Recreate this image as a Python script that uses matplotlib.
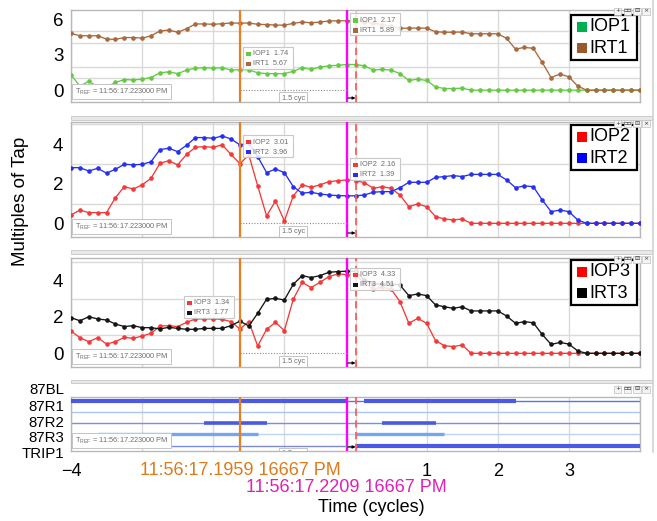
import numpy as np
import matplotlib
matplotlib.use("Agg")
import matplotlib.pyplot as plt
from matplotlib.patches import Rectangle
from matplotlib.transforms import IdentityTransform

plt.rcParams['font.family'] = ['Liberation Sans', 'DejaVu Sans']

# ---------------- data ----------------
t_start = -4.0
samples_per_cycle = 8
n_samples = 65
t = t_start + np.arange(n_samples) / samples_per_cycle

IOP1 = [1.30, 0.35, 0.75, 0.30, 0.28, 0.65, 0.90, 0.86, 0.93, 1.07,
        1.47, 1.55, 1.40, 1.70, 1.86, 1.90, 1.86, 1.90, 1.70, 1.74,
        1.72, 1.47, 1.40, 1.40, 1.40, 1.60, 1.90, 1.76, 1.95, 2.06,
        2.10, 2.17, 2.17, 2.06, 1.70, 1.76, 1.70, 1.40, 0.82, 0.93,
        0.82, 0.28, 0.14, 0.14, 0.17, 0, 0, 0, 0, 0,
        0, 0, 0, 0, 0, 0, 0, 0, 0, 0, 0, 0, 0, 0, 0]
IRT1 = [4.80, 4.60, 4.60, 4.60, 4.32, 4.30, 4.45, 4.45, 4.40, 4.60,
        5.00, 5.08, 4.90, 5.20, 5.60, 5.60, 5.57, 5.62, 5.68, 5.67,
        5.68, 5.57, 5.55, 5.50, 5.50, 5.65, 5.76, 5.70, 5.76, 5.85,
        5.87, 5.87, 5.89, 5.80, 5.65, 5.55, 5.42, 5.23, 5.25, 5.25,
        5.25, 4.94, 4.90, 4.90, 4.92, 4.77, 4.77, 4.77, 4.77, 4.38,
        3.47, 3.62, 3.54, 2.35, 1.07, 1.36, 1.13, 0.34, 0, 0,
        0, 0, 0, 0, 0]
IOP2 = [0.42, 0.67, 0.54, 0.54, 0.54, 1.30, 1.85, 1.73, 1.94, 2.27,
        3.03, 3.16, 2.95, 3.48, 3.84, 3.87, 3.84, 3.96, 3.48, 3.01,
        3.45, 1.89, 0.37, 1.13, 0.12, 1.38, 1.94, 1.82, 1.94, 2.10,
        2.15, 2.19, 2.16, 2.05, 1.77, 1.85, 1.77, 1.43, 0.84, 0.98,
        0.84, 0.34, 0.22, 0.17, 0.22, 0, 0, 0, 0, 0,
        0, 0, 0, 0, 0, 0, 0, 0, 0, 0, 0, 0, 0, 0, 0]
IRT2 = [2.81, 2.81, 2.64, 2.78, 2.53, 2.73, 2.98, 2.95, 2.98, 3.11,
        3.72, 3.79, 3.62, 3.94, 4.33, 4.33, 4.29, 4.41, 4.26, 3.96,
        4.04, 3.37, 2.56, 2.74, 2.56, 1.85, 1.52, 1.57, 1.48, 1.43,
        1.40, 1.39, 1.39, 1.43, 1.57, 1.60, 1.60, 1.80, 2.07, 2.07,
        2.07, 2.32, 2.36, 2.41, 2.36, 2.47, 2.47, 2.47, 2.47, 2.19,
        1.80, 1.89, 1.85, 1.18, 0.59, 0.67, 0.59, 0.17, 0, 0,
        0, 0, 0, 0, 0]
IOP3 = [1.23, 0.86, 0.64, 0.86, 0.51, 0.64, 0.88, 0.82, 0.95, 1.10,
        1.50, 1.52, 1.47, 1.70, 1.89, 1.89, 1.89, 1.87, 1.74, 1.34,
        1.74, 0.40, 1.32, 1.70, 1.25, 2.97, 3.90, 3.61, 3.90, 4.21,
        4.36, 4.33, 4.33, 3.85, 3.53, 3.63, 3.53, 2.84, 1.65, 1.92,
        1.65, 0.70, 0.42, 0.37, 0.46, 0, 0, 0, 0, 0,
        0, 0, 0, 0, 0, 0, 0, 0, 0, 0, 0, 0, 0, 0, 0]
IRT3 = [1.96, 1.79, 2.01, 1.89, 1.83, 1.61, 1.47, 1.52, 1.41, 1.41,
        1.34, 1.43, 1.37, 1.32, 1.32, 1.37, 1.37, 1.37, 1.52, 1.77,
        1.50, 2.20, 2.97, 3.02, 2.93, 3.79, 4.27, 4.16, 4.27, 4.45,
        4.49, 4.51, 4.51, 4.03, 3.81, 3.81, 3.81, 3.75, 3.17, 3.26,
        3.17, 2.66, 2.56, 2.47, 2.56, 2.33, 2.33, 2.33, 2.33, 2.05,
        1.65, 1.74, 1.68, 1.04, 0.49, 0.60, 0.51, 0.13, 0, 0,
        0, 0, 0, 0, 0]

t_cursor_a = -1.625
t_cursor_b = -0.125
t_ref = 0.0
time_label_a = "11:56:17.1959 16667 PM"
time_label_b = "11:56:17.2209 16667 PM"
tref_label = r"T$_{\mathregular{REF}}$ = 11:56:17.223000 PM"
delta_label = "1.5 cyc"

digital_channels = ["87BL", "87R1", "87R2", "87R3", "TRIP1"]
digital_on = {
    "87BL": [(-4.0, -0.125), (0.125, 2.25)],
    "87R1": [],
    "87R2": [(-2.125, -1.25), (0.375, 1.125)],
    "87R3": [(-3.625, -1.375), (0.0, 1.25)],
    "TRIP1": [(0.0, 4.0)],
}

x_ticks = [-4, -3, -2, -1, 0, 1, 2, 3, 4]
x_tick_labels = ["\u22124", "", "", "", "", "1", "2", "3", ""]

# ---------------- styles ----------------
C_GREEN_L, C_BROWN_L = "#62cb42", "#a8693e"
C_RED_L, C_BLUE_L, C_BLACK_L = "#f23a3a", "#2630f0", "#151515"
C_ORANGE, C_MAGENTA, C_REFRED = "#ee7d1f", "#ff00ff", "#ff5c5c"
GRID = "#dadada"
SPINE = "#b8b8b8"
GRAYTXT = "#6e6e6e"

W, H = 657, 521
fig = plt.figure(figsize=(W / 100, H / 100), dpi=100)
ID = IdentityTransform()


def rect(top, bottom, left=71, right=640):
    return [left / W, 1 - bottom / H, (right - left) / W, (bottom - top) / H]


ax1 = fig.add_axes(rect(10, 102))
ax2 = fig.add_axes(rect(122.3, 237))
ax3 = fig.add_axes(rect(258.3, 367))
ax4 = fig.add_axes(rect(396.7, 451))
axes = [ax1, ax2, ax3, ax4]

ylims = [(-1.0, 6.78), (-0.69, 5.1), (-0.75, 5.22), (-0.47, 4.35)]
yticks = [[0, 3, 6], [0, 2, 4], [0, 2, 4], []]
ygrid = [range(0, 7), range(0, 6), range(0, 6), []]

for ax, yl, yt, yg in zip(axes, ylims, yticks, ygrid):
    ax.set_xlim(-4, 4)
    ax.set_ylim(*yl)
    ax.set_xticks(x_ticks)
    ax.set_yticks(yt)
    ax.set_yticks(list(yg), minor=True)
    ax.tick_params(axis='both', which='both', length=0)
    ax.tick_params(axis='y', labelsize=13.5, pad=5.5)
    ax.tick_params(axis='x', labelsize=13, pad=9)
    ax.grid(True, axis='x', color=GRID, lw=1.0)
    ax.grid(True, axis='y', which='minor', color=GRID, lw=1.0)
    ax.set_axisbelow(True)
    for s in ax.spines.values():
        s.set_color(SPINE)
        s.set_linewidth(1.0)
    if ax is not ax4:
        ax.set_xticklabels([])
    else:
        ax.set_xticklabels(x_tick_labels)

series = [
    (ax1, [("IOP1", IOP1, C_GREEN_L, "#00b050"), ("IRT1", IRT1, C_BROWN_L, "#9c5a2c")]),
    (ax2, [("IOP2", IOP2, C_RED_L, "#ff0000"), ("IRT2", IRT2, C_BLUE_L, "#0000ff")]),
    (ax3, [("IOP3", IOP3, C_RED_L, "#ff0000"), ("IRT3", IRT3, C_BLACK_L, "#000000")]),
]

for ax, ss in series:
    for name, vals, col, _ in ss:
        ax.plot(t, vals, '-', color=col, lw=0.95, marker='o', ms=2.3, mec=col, mfc=col, zorder=3)

# digital channels
levels = {ch: len(digital_channels) - 1 - i for i, ch in enumerate(digital_channels)}
thin_col = {"87BL": "#5f72ea", "87R1": "#a9c6f5", "87R2": "#7a8cee", "87R3": "#bcd5f6", "TRIP1": "#7a8cee"}
thick_col = {"87BL": "#4a5ae6", "87R1": "#4a5ae6", "87R2": "#4a5ae6", "87R3": "#72a8ef", "TRIP1": "#4a5ae6"}
thick_w = {"87BL": 3.0, "87R1": 3.0, "87R2": 2.6, "87R3": 2.4, "TRIP1": 3.0}
for ch in digital_channels:
    y = levels[ch]
    ax4.hlines(y, -4, 4, color=thin_col[ch], lw=1.0, zorder=2)
    for s, e in digital_on[ch]:
        ax4.hlines(y, s, e, color=thick_col[ch], lw=thick_w[ch], zorder=3)

# cursor lines, delta bracket, arrows
for ax in axes:
    ax.axvline(t_cursor_a, color=C_ORANGE, lw=1.6, zorder=4)
    ax.axvline(t_cursor_b, color=C_MAGENTA, lw=1.7, zorder=4)
    ax.axvline(t_ref, color=C_REFRED, lw=1.3, ls=(0, (4, 2.5)), zorder=4)
    ax.hlines(0, t_cursor_a, t_cursor_b, color="#8a8a8a", lw=0.8, ls=(0, (1, 1.5)), zorder=4)
    mid = (t_cursor_a + t_cursor_b) / 2
    ax.annotate(delta_label, xy=(mid, 0), xycoords='data', xytext=(0, -4.5),
                textcoords='offset pixels', ha='center', va='top', fontsize=5.3,
                color=GRAYTXT, annotation_clip=False, clip_on=True, zorder=5,
                bbox=dict(boxstyle='square,pad=0.3', fc='white', ec='#c4c4c4', lw=0.7))
    yfrac = 4.0 / ax.bbox.height
    ax.annotate('', xy=(t_ref, yfrac), xycoords=('data', 'axes fraction'),
                xytext=(t_cursor_b + 0.02, yfrac), textcoords=('data', 'axes fraction'),
                arrowprops=dict(arrowstyle='-|>', color='black', lw=0.8,
                                mutation_scale=4, shrinkA=0, shrinkB=0), zorder=6)
    ax.annotate(tref_label, xy=(0, 0), xycoords='axes fraction', xytext=(4, 5.5),
                textcoords='offset pixels', ha='left', va='bottom', fontsize=5.3,
                color=GRAYTXT, zorder=6,
                bbox=dict(boxstyle='square,pad=0.35', fc='white', ec='#c4c4c4', lw=0.7))


# readout boxes
def readout(ax, x_line, dx, top_off, rows, w=50, h=22):
    X = ax.transData.transform((x_line, 0))[0]
    left = X + dx if dx >= 0 else X + dx - w
    top = ax.bbox.y1 - top_off
    fig.add_artist(Rectangle((left, top - h), w, h, transform=ID, fc=(1, 1, 1, 0.85),
                             ec='#c8c8c8', lw=0.8, zorder=10))
    for i, (col, name, val) in enumerate(rows):
        yy = top - 7 - i * 10
        fig.add_artist(Rectangle((left + 3.5, yy - 2.2), 4.4, 4.4, transform=ID,
                                 fc=col, ec='none', zorder=11))
        fig.text(left + 10.5, yy, f"{name}  {val:.2f}", transform=ID, fontsize=5.3,
                 color=GRAYTXT, ha='left', va='center', zorder=11)


readout_cfg = [
    (ax1, (3, 36.7), (3, 3.3)),
    (ax2, (3, 12.7), (3, 35.7)),
    (ax3, (-6, 37.5), (3, 9.7)),
]
for (ax, ss), (_, ra, rb) in zip(series, readout_cfg):
    rows_a = [(col, name, float(np.interp(t_cursor_a, t, vals))) for name, vals, col, _ in ss]
    rows_b = [(col, name, float(np.interp(t_ref, t, vals))) for name, vals, col, _ in ss]
    readout(ax, t_cursor_a, ra[0], ra[1], rows_a)
    readout(ax, t_cursor_b, rb[0], rb[1], rows_b)


# legends
def legend(ax, ss, top_off):
    right = ax.bbox.x1 - 3
    top = ax.bbox.y1 - top_off
    w, h = 66, 45
    fig.add_artist(Rectangle((right - w, top - h), w, h, transform=ID, fc='white',
                             ec='black', lw=1.6, zorder=12))
    for i, (name, _, _, lc) in enumerate(ss):
        yy = top - 11.7 - i * 21.6
        fig.add_artist(Rectangle((right - w + 6, yy - 5), 10, 10, transform=ID,
                                 fc=lc, ec='none', zorder=13))
        fig.text(right - w + 18, yy, name, transform=ID, fontsize=13, ha='left',
                 va='center', color='black', zorder=13)


for (ax, ss), off in zip(series, [5, 2.7, 1.7]):
    legend(ax, ss, off)

# panel headers (gray separators) and toolbar icons
for y0, y1 in [(115.7, 119.7), (250.0, 253.5), (380.0, 383.3)]:
    fig.add_artist(Rectangle((71, H - y1), 581, y1 - y0, transform=ID, fc='#e8e8e8',
                             ec='#c6c6c6', lw=0.6, zorder=1))
fig.add_artist(plt.Line2D([652.7, 652.7], [H - 452, H], transform=ID, color='#d2d2d2',
                          lw=1.2, zorder=1))
icon_glyphs = ["+", "\u25ab\u25ab", "\u229f", "\u00d7"]
icon_x = [617.5, 627.5, 637.0, 646.0]
for yc in [11, 123.5, 259, 389]:
    for gx, g in zip(icon_x, icon_glyphs):
        fig.add_artist(Rectangle((gx - 3.8, H - yc - 3.5), 7.6, 7, transform=ID,
                                 fc='#f4f4f4', ec='#c0c0c0', lw=0.5, zorder=14))
        fig.text(gx, H - yc, g, transform=ID, fontsize=4.5, ha='center', va='center',
                 color='#333333', family=['DejaVu Sans'], zorder=15)

# digital channel labels
for ch, yc in zip(digital_channels, [390, 407.3, 423.0, 437.6, 454]):
    fig.text(64, H - yc, ch, transform=ID, fontsize=10.8, ha='right', va='center')

# cursor time labels
ax4.annotate(time_label_a, xy=(t_cursor_a, 0), xycoords=('data', 'axes fraction'),
             xytext=(0, -19.7), textcoords='offset pixels', ha='center', va='center',
             fontsize=13, color='#dd7a1c', annotation_clip=False)
ax4.annotate(time_label_b, xy=(t_cursor_b, 0), xycoords=('data', 'axes fraction'),
             xytext=(0, -37), textcoords='offset pixels', ha='center', va='center',
             fontsize=13, color='#e020b8', annotation_clip=False)

fig.text(371, H - 508, "Time (cycles)", transform=ID, fontsize=13, ha='center', va='center')
fig.text(20.5, H - 201, "Multiples of Tap", transform=ID, fontsize=13.5, rotation=90,
         ha='center', va='center')

fig.savefig("out.png", dpi=100)
